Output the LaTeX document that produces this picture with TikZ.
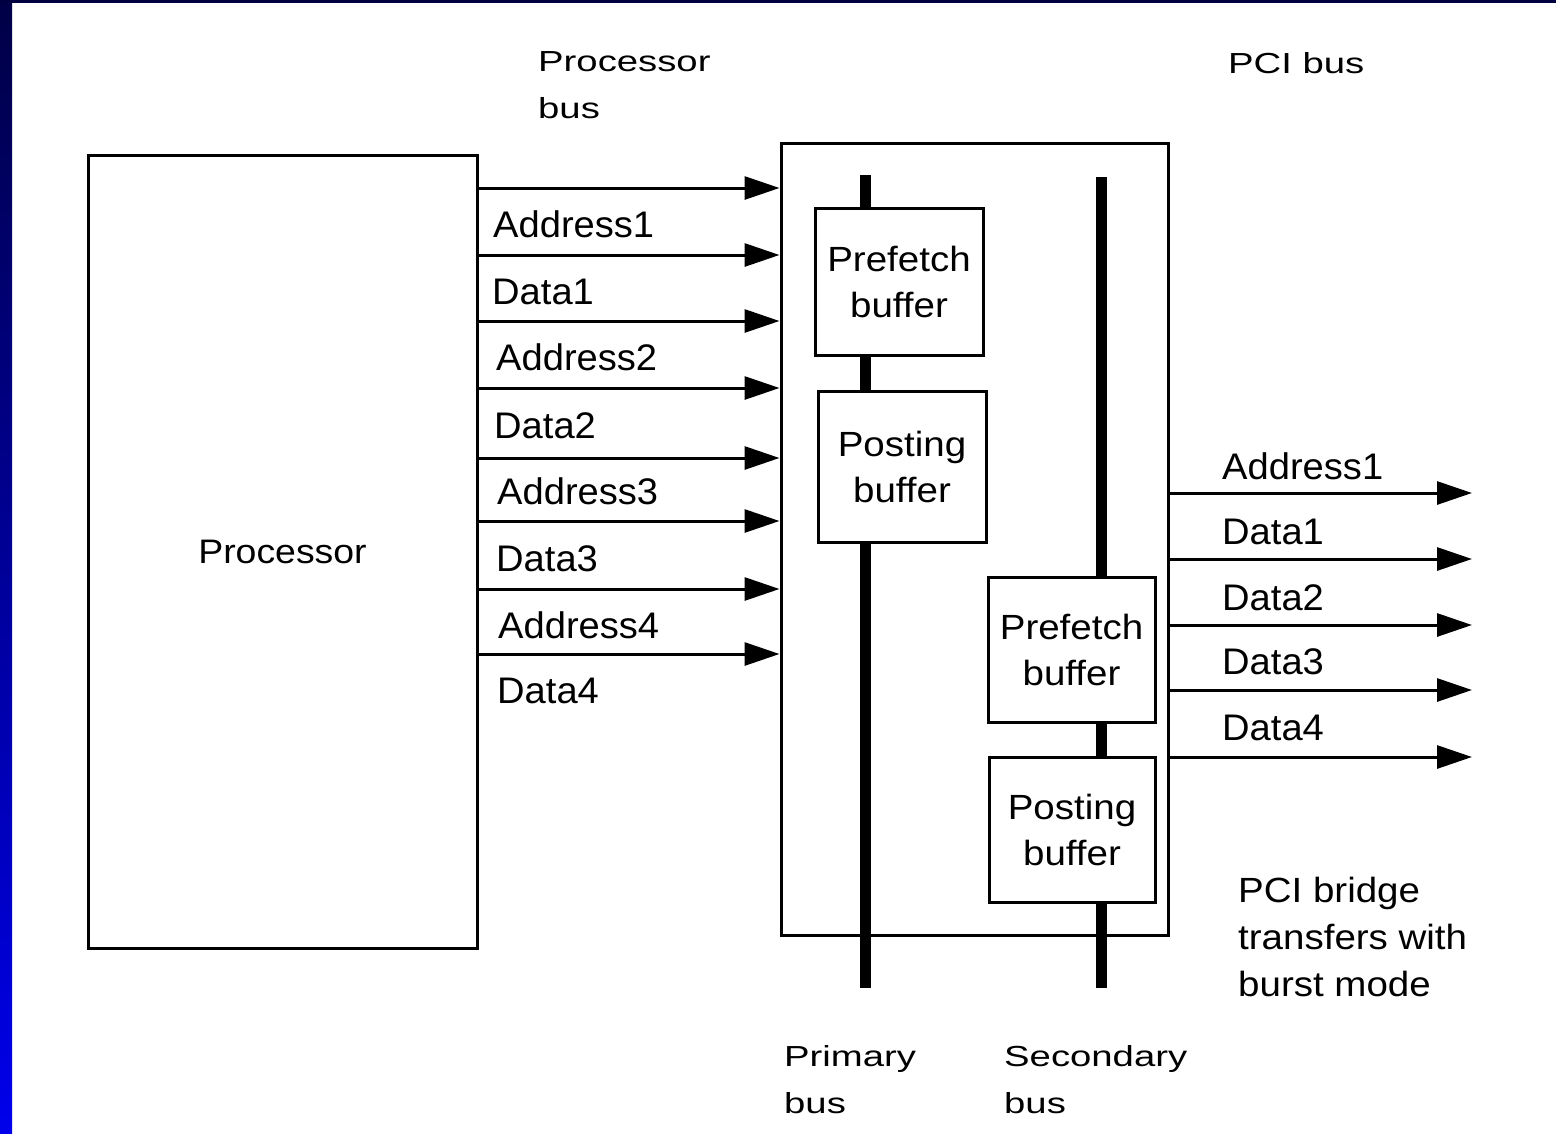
\documentclass[tikz,border=0pt]{standalone}
\usepackage{fontspec}
\setmainfont{Liberation Sans}
\newfontfamily\busfont[FakeStretch=1.32]{Liberation Sans}
\newfontfamily\sigfont[FakeStretch=1.03]{Liberation Sans}
\newfontfamily\buffont[FakeStretch=1.1]{Liberation Sans}
\usetikzlibrary{arrows.meta}
\definecolor{navy}{RGB}{0,0,64}
\definecolor{frametop}{RGB}{0,0,70}
\definecolor{framebot}{RGB}{0,0,235}

\begin{document}
\begin{tikzpicture}[x=1pt,y=-1pt,
  unitbox/.style={draw,line width=3pt,fill=white,inner sep=0pt},
  sig/.style={line width=3pt,-{Triangle[length=35pt,width=23pt]}},
  siglabel/.style={anchor=base west,inner sep=0pt,font=\sigfont\fontsize{37}{44}\selectfont},
  busline/.style={line width=11pt},
  buftext/.style={font=\buffont\fontsize{35}{46}\selectfont,align=center},
  caption/.style={anchor=north west,inner sep=0pt,align=left,font=\busfont\fontsize{29}{47}\selectfont},
  note/.style={anchor=north west,inner sep=0pt,align=left,font=\buffont\fontsize{35}{47}\selectfont},
]
\useasboundingbox (0,0) rectangle (1556,1133);

% slide frame
\fill[top color=frametop,bottom color=framebot] (0,0) rectangle (12,1133);
\fill[navy] (0,0) rectangle (1556,3);

% processor and bridge
\node[unitbox,minimum width=389pt,minimum height=793pt,font=\buffont\fontsize{34}{40}\selectfont] (proc) at (282.5,551.5) {Processor};
\node[unitbox,minimum width=387pt,minimum height=792pt] (bridge) at (974.5,539) {};

% primary and secondary buses
\coordinate (pritop) at (865,175);
\coordinate (pribot) at (865,988);
\coordinate (sectop) at (1101,177);
\coordinate (secbot) at (1101,988);
\draw[busline] (pritop) -- (pribot);
\draw[busline] (sectop) -- (secbot);

% buffers
\node[unitbox,buftext,minimum width=168pt,minimum height=147pt] (pf1) at (899,281.5) {Prefetch\\buffer};
\node[unitbox,buftext,minimum width=168pt,minimum height=151pt] (pb1) at (902,466.5) {Posting\\buffer};
\node[unitbox,buftext,minimum width=167pt,minimum height=145pt] (pf2) at (1071.5,649.5) {Prefetch\\buffer};
\node[unitbox,buftext,minimum width=166pt,minimum height=145pt] (pb2) at (1072,829.5) {Posting\\buffer};

% processor bus transfers
\foreach \y in {188,255,321,388,458,521,589,654}
  \draw[sig] (proc.east |- 0,\y) -- (bridge.west |- 0,\y);

\node[siglabel] (la1) at (493,237.5) {Address1};
\node[siglabel] (la2) at (492,304.5) {Data1};
\node[siglabel] (la3) at (496,370.5) {Address2};
\node[siglabel] (la4) at (494,438.5) {Data2};
\node[siglabel] (la5) at (497,504.5) {Address3};
\node[siglabel] (la6) at (496,571.5) {Data3};
\node[siglabel] (la7) at (498,638.5) {Address4};
\node[siglabel] (la8) at (497,703.5) {Data4};

% PCI bus burst transfers
\foreach \y [count=\i] in {493,559,625,690,757} {
  \coordinate (out\i) at (1472,\y);
  \draw[sig] (bridge.east |- out\i) -- (out\i);
}

\node[siglabel] (lb1) at (1222,479) {Address1};
\node[siglabel] (lb2) at (1222,544) {Data1};
\node[siglabel] (lb3) at (1222,610) {Data2};
\node[siglabel] (lb4) at (1222,674) {Data3};
\node[siglabel] (lb5) at (1222,740) {Data4};

% captions
\node[caption] (procbus) at (538,51) {Processor\\bus};
\node[caption] (pcibus) at (1228,52.5) {PCI bus};
\node[caption] (primary) at (784,1045) {Primary\\bus};
\node[caption] (secondary) at (1004,1045) {Secondary\\bus};
\node[note] (burst) at (1238,877) {PCI bridge\\transfers with\\burst mode};
\end{tikzpicture}
\end{document}
